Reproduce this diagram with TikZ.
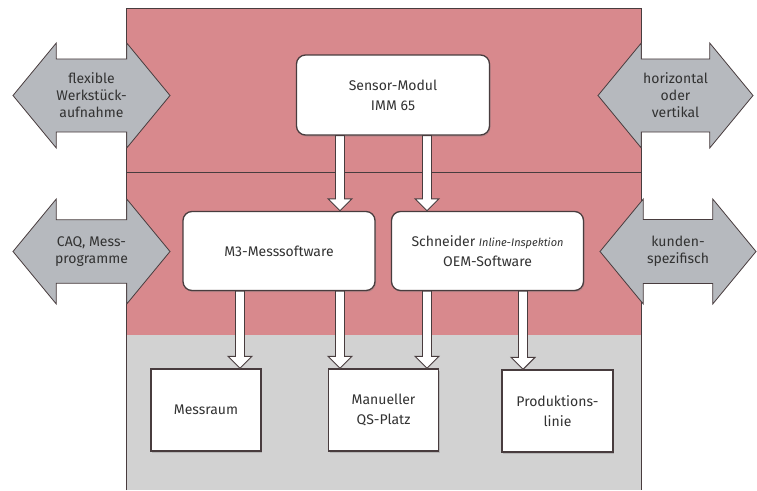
\documentclass[tikz,border=0pt]{standalone}
\usepackage{fontspec}
\setmainfont{Fira Sans}
\usetikzlibrary{shapes.arrows,shadows,calc}
\definecolor{panelred}{RGB}{216,137,141}
\definecolor{panelgray}{RGB}{210,210,210}
\definecolor{arrowgray}{RGB}{182,185,190}
\definecolor{edge}{RGB}{72,60,62}
\definecolor{ink}{RGB}{50,50,50}
\tikzset{
    unitbox/.style={draw=edge, line width=1.3pt, fill=white, rounded corners=9pt,
        minimum width=192, minimum height=79, align=center, text=ink,
        font=\fontsize{14}{20}\selectfont,
        drop shadow={shadow xshift=1pt, shadow yshift=-1.5pt, opacity=.35}},
    placebox/.style={unitbox, rounded corners=0pt, minimum width=110, minimum height=82},
    sidearrow/.style={double arrow, draw=edge, line width=0.8pt, fill=arrowgray,
        double arrow head extend=10pt, double arrow tip angle=101,
        minimum height=157, minimum width=105, inner sep=0pt, align=center,
        text=ink, font=\fontsize{14}{17}\selectfont},
    flowarrow/.style={draw=edge, line width=0.9pt, fill=white},
}
\newcommand\hollowarrow[2]{\path[flowarrow] let \p1=#1, \p2=#2 in
    (\x1-4.5pt,\y1) -- (\x1-4.5pt,\y2+12pt) -- (\x1-12pt,\y2+12pt) -- (\x1,\y2)
    -- (\x1+12pt,\y2+12pt) -- (\x1+4.5pt,\y2+12pt) -- (\x1+4.5pt,\y1) -- cycle;}

\begin{document}
\begin{tikzpicture}[x=1pt,y=-1pt]
    \useasboundingbox (0,0) rectangle (757,490);
    \fill[panelred] (126,8) rectangle (641,335);
    \fill[panelgray] (126,335) rectangle (641,490);
    \draw[edge, line width=1pt] (126,490) -- (126,8) -- (641,8) -- (641,490);
    \draw[edge, line width=1pt] (126,172) -- (641,172);

    \node[sidearrow] (fixture) at (91.5,95.5) {flexible\\Werkstück-\\aufnahme};
    \node[sidearrow] (caq) at (91.5,251.5) {CAQ, Mess-\\programme};
    \node[sidearrow, minimum height=155] (orient) at (675.5,95.5) {horizontal\\oder\\vertikal};
    \node[sidearrow, minimum height=156] (custom) at (678,251.5) {kunden-\\spezifisch};

    \node[unitbox, minimum width=193, minimum height=80] (sensor) at (393,95) {Sensor-Modul\\IMM 65};
    \node[unitbox] (m3) at (279,251) {M3-Messsoftware};
    \node[unitbox] (inspect) at (487.5,251) {Schneider {\fontsize{11}{13}\selectfont\itshape Inline-Inspektion}\\OEM-Software};

    \node[placebox] (messraum) at (206,410) {Messraum};
    \node[placebox] (qsplatz) at (383.5,410) {Manueller\\QS-Platz};
    \node[placebox, minimum width=111] (linie) at (557.5,411) {Produktions-\\linie};

    \coordinate (lane1) at (240,0);
    \coordinate (lane2) at (340,0);
    \coordinate (lane3) at (427,0);
    \coordinate (lane4) at (523,0);
    \hollowarrow{(sensor.south -| lane2)}{(m3.north -| lane2)}
    \hollowarrow{(sensor.south -| lane3)}{(inspect.north -| lane3)}
    \hollowarrow{(m3.south -| lane1)}{(messraum.north -| lane1)}
    \hollowarrow{(m3.south -| lane2)}{(qsplatz.north -| lane2)}
    \hollowarrow{(inspect.south -| lane3)}{(qsplatz.north -| lane3)}
    \hollowarrow{(inspect.south -| lane4)}{(linie.north -| lane4)}
\end{tikzpicture}
\end{document}
